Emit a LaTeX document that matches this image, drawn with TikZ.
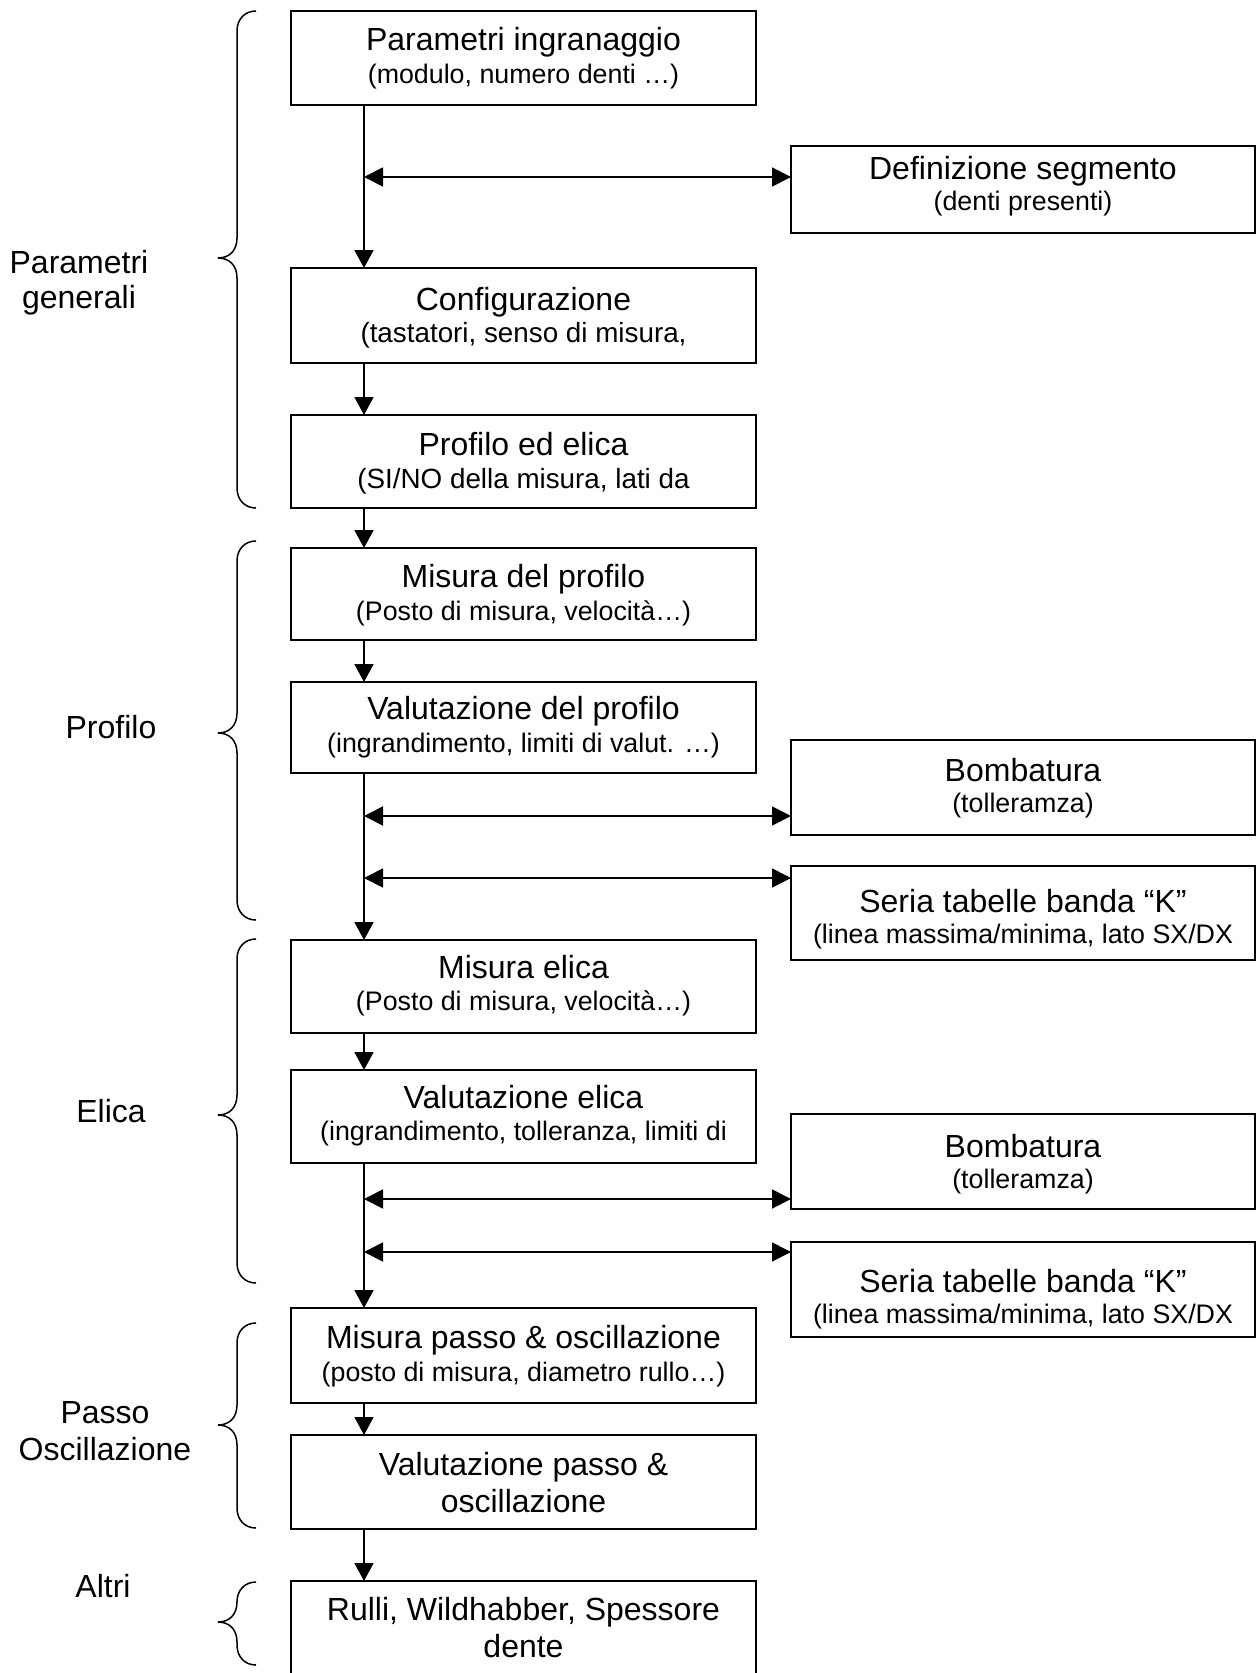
\documentclass[tikz,border=0pt]{standalone}
\usepackage{fontspec}
\setmainfont{Liberation Sans}
\usetikzlibrary{arrows.meta}
\newcommand\ttlf{\fontsize{32}{38}\selectfont}
\newcommand\subf{\fontsize{26.8}{31}\selectfont}
\newcommand\subbf{\fontsize{27.8}{32}\selectfont}
\newcommand\mybrace[3]{\draw[brc] (256,#1) .. controls (245,#1) and (237,#1+8) .. (237,#1+20) -- (237,#2-20) .. controls (237,#2-7) and (229,#2) .. (218,#2) .. controls (229,#2) and (237,#2+7) .. (237,#2+20) -- (237,#3-20) .. controls (237,#3-8) and (245,#3) .. (256,#3);}
\begin{document}
\begin{tikzpicture}[x=1pt,y=-1pt,
  box/.style={draw, line width=2pt, inner sep=0pt, outer sep=0pt, minimum width=465pt},
  rbox/.style={box, minimum width=464pt},
  ttl/.style={anchor=base, inner sep=0pt, font=\ttlf},
  sbt/.style={anchor=base, inner sep=0pt, font=\subf},
  sbtb/.style={anchor=base, inner sep=0pt, font=\subbf},
  arr/.style={line width=1.8pt, -{Triangle[length=18pt,width=19pt]}},
  darr/.style={line width=1.8pt, {Triangle[length=19pt,width=19pt]}-{Triangle[length=19pt,width=19pt]}},
  brc/.style={line width=1.5pt}]
\useasboundingbox (0,0) rectangle (1258,1673);
\fill[white] (0,0) rectangle (1258,1673);

% main boxes
\node[box, minimum height=94pt] (b1) at (523.5,58) {};
\node[ttl] (b1t) at (523.5,50) {Parametri ingranaggio};
\node[sbt] (b1s) at (523.5,83) {(modulo, numero denti …)};

\node[rbox, minimum height=87pt] (def) at (1023,189.5) {};
\node[ttl] (deft) at (1023,179) {Definizione segmento};
\node[sbt] (defs) at (1023,210) {(denti presenti)};

\node[box, minimum height=95pt] (conf) at (523.5,315.5) {};
\node[ttl] (conft) at (523.5,310) {Configurazione};
\node[sbtb] (confs) at (523.5,342) {(tastatori, senso di misura,};

\node[box, minimum height=93pt] (pe) at (523.5,461.5) {};
\node[ttl] (pet) at (523.5,455) {Profilo ed elica};
\node[sbtb] (pes) at (523.5,488) {(SI/NO della misura, lati da};

\node[box, minimum height=92pt] (mp) at (523.5,594) {};
\node[ttl] (mpt) at (523.5,587) {Misura del profilo};
\node[sbt] (mps) at (523.5,620) {(Posto di misura, velocità…)};

\node[box, minimum height=91pt] (vp) at (523.5,727.5) {};
\node[ttl] (vpt) at (523.5,719) {Valutazione del profilo};
\node[sbt] (vps) at (523.5,752) {(ingrandimento, limiti di valut. …)};

\node[rbox, minimum height=95pt] (bo1) at (1023,787.5) {};
\node[ttl] (bo1t) at (1023,781) {Bombatura};
\node[sbt] (bo1s) at (1023,812) {(tolleramza)};

\node[rbox, minimum height=94pt] (se1) at (1023,913) {};
\node[ttl] (se1t) at (1023,912) {Seria tabelle banda “K”};
\node[sbt] (se1s) at (1023,943) {(linea massima/minima, lato SX/DX};

\node[box, minimum height=93pt] (me) at (523.5,986.5) {};
\node[ttl] (met) at (523.5,978) {Misura elica};
\node[sbt] (mes) at (523.5,1010) {(Posto di misura, velocità…)};

\node[box, minimum height=93pt] (ve) at (523.5,1116.5) {};
\node[ttl] (vet) at (523.5,1108) {Valutazione elica};
\node[sbt] (ves) at (523.5,1140) {(ingrandimento, tolleranza, limiti di};

\node[rbox, minimum height=95pt] (bo2) at (1023,1161.5) {};
\node[ttl] (bo2t) at (1023,1157) {Bombatura};
\node[sbt] (bo2s) at (1023,1188) {(tolleramza)};

\node[rbox, minimum height=95pt] (se2) at (1023,1289.5) {};
\node[ttl] (se2t) at (1023,1292) {Seria tabelle banda “K”};
\node[sbt] (se2s) at (1023,1323) {(linea massima/minima, lato SX/DX};

\node[box, minimum height=95pt] (mpo) at (523.5,1355.5) {};
\node[ttl] (mpot) at (523.5,1348) {Misura passo \& oscillazione};
\node[sbt] (mpos) at (523.5,1381) {(posto di misura, diametro rullo…)};

\node[box, minimum height=94pt] (vpo) at (523.5,1482) {};
\node[ttl] (vpot) at (523.5,1475) {Valutazione passo \&};
\node[ttl] (vpos) at (523.5,1512) {oscillazione};

\begin{scope}
\clip (0,0) rectangle (1258,1673);
\node[box, minimum height=110pt] (ru) at (523.5,1636) {};
\end{scope}
\node[ttl] (rut) at (523.5,1620) {Rulli, Wildhabber, Spessore};
\node[ttl] (rus) at (523.5,1657) {dente};

% spine connectors
\coordinate (sp) at (364,0);
\draw[arr] (sp |- b1.south) -- (sp |- conf.north);
\draw[arr] (sp |- conf.south) -- (sp |- pe.north);
\draw[arr] (sp |- pe.south) -- (sp |- mp.north);
\draw[arr] (sp |- mp.south) -- (sp |- vp.north);
\draw[arr] (sp |- vp.south) -- (sp |- me.north);
\draw[arr] (sp |- me.south) -- (sp |- ve.north);
\draw[arr] (sp |- ve.south) -- (sp |- mpo.north);
\draw[arr] (sp |- mpo.south) -- (sp |- vpo.north);
\draw[arr] (sp |- vpo.south) -- (sp |- ru.north);

% horizontal double arrows
\coordinate (h1) at (364,177);
\coordinate (h2) at (364,816);
\coordinate (h3) at (364,878);
\coordinate (h4) at (364,1199);
\coordinate (h5) at (364,1252);
\draw[darr] (h1) -- (h1 -| def.west);
\draw[darr] (h2) -- (h2 -| bo1.west);
\draw[darr] (h3) -- (h3 -| se1.west);
\draw[darr] (h4) -- (h4 -| bo2.west);
\draw[darr] (h5) -- (h5 -| se2.west);

% braces
\mybrace{11}{258}{508}
\mybrace{541}{733}{920}
\mybrace{939}{1115}{1283}
\mybrace{1323}{1425}{1528}
\mybrace{1582}{1622}{1665}

% side labels
\node[ttl] (lpg1) at (79,273) {Parametri};
\node[ttl] (lpg2) at (79,308) {generali};
\node[ttl] (lpr) at (111,738) {Profilo};
\node[ttl] (lel) at (111,1122) {Elica};
\node[ttl] (lpa1) at (105,1423) {Passo};
\node[ttl] (lpa2) at (105,1460) {Oscillazione};
\node[ttl] (lal) at (103,1597) {Altri};
\end{tikzpicture}
\end{document}
